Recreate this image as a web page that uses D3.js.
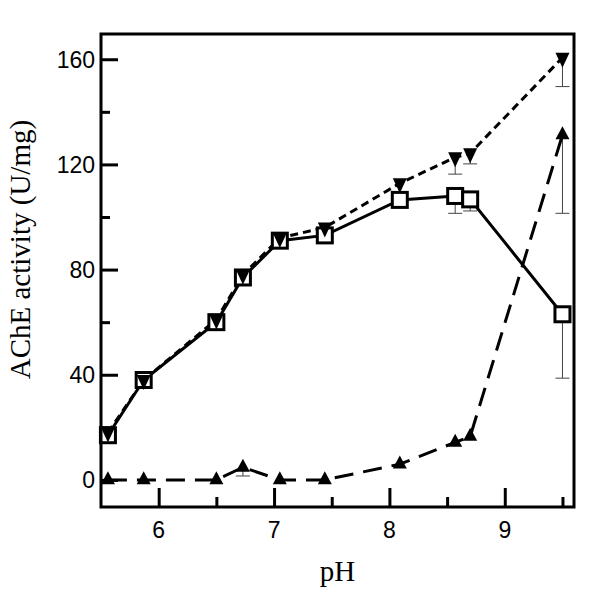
<!DOCTYPE html>
<html>
<head>
<meta charset="utf-8">
<script src="https://cdn.jsdelivr.net/npm/d3@7"></script>
<style>
    body { margin: 0; background: #fff; }
    .tick-label { font-family: "Liberation Sans", Arial, sans-serif; font-size: 23px; fill: #000; }
    .axis-title { font-family: "Liberation Serif", "Times New Roman", serif; font-size: 29px; fill: #000; }
</style>
</head>
<body>
<div id="chart"></div>
<script>
// AChE activity vs pH - three series with lower error bars

const phValues = [5.56, 5.87, 6.5, 6.73, 7.05, 7.44, 8.09, 8.57, 8.70, 9.5];

// open squares, solid line
const squareValues = [17, 38, 60, 77, 91, 93, 106.5, 108, 106.7, 63];
const squareErr    = [0, 0, 0, 0, 0, 0, 0, 6.6, 4.4, 24.3];

// filled down triangles, short dashes
const downValues = [18, 38, 61, 78, 92, 96, 112.8, 122.7, 124.2, 160.6];
const downErr    = [0, 0, 0, 0, 0, 0, 0, 6.4, 4, 11];

// filled up triangles, long dashes
const upValues = [0, 0, 0, 4.8, 0, 0, 6, 14.3, 16.5, 131.2];
const upErr    = [0, 0, 0, 3.3, 0, 0, 0, 0, 0, 29.8];

const xMajor = [6, 7, 8, 9];
const xMinor = [6.5, 7.5, 8.5, 9.5];
const yMajor = [0, 40, 80, 120, 160];
const yMinor = [20, 60, 100, 140];

const CONFIG = {
    width: 600,
    height: 592,
    margin: { top: 34, right: 26, bottom: 85, left: 101 },
    get chartWidth() { return this.width - this.margin.left - this.margin.right; },
    get chartHeight() { return this.height - this.margin.top - this.margin.bottom; }
};

const { width, height, margin, chartWidth, chartHeight } = CONFIG;

const svg = d3.select("#chart").append("svg")
    .attr("width", width)
    .attr("height", height);

const g = svg.append("g")
    .attr("transform", `translate(${margin.left},${margin.top})`);

const x = d3.scaleLinear().domain([5.5, 9.6]).range([0, chartWidth]);
const y = d3.scaleLinear().domain([-10.3, 169.6]).range([chartHeight, 0]);

// build series rows
function rows(values, errs) {
    return phValues.map((p, i) => ({ ph: p, v: values[i], e: errs[i] }));
}
const squares = rows(squareValues, squareErr);
const downs = rows(downValues, downErr);
const ups = rows(upValues, upErr);

// inward ticks via axis generators
const tickStyle = sel => {
    sel.select(".domain").remove();
    sel.selectAll("line").attr("stroke", "#000").attr("stroke-width", 3);
};

g.append("g")
    .attr("transform", `translate(0,${chartHeight})`)
    .call(d3.axisBottom(x).tickValues(xMajor).tickSize(-19).tickFormat(""))
    .call(tickStyle);
g.append("g")
    .attr("transform", `translate(0,${chartHeight})`)
    .call(d3.axisBottom(x).tickValues(xMinor).tickSize(-10).tickFormat(""))
    .call(tickStyle);
g.append("g")
    .call(d3.axisLeft(y).tickValues(yMajor).tickSize(-17).tickFormat(""))
    .call(tickStyle);
g.append("g")
    .call(d3.axisLeft(y).tickValues(yMinor).tickSize(-9).tickFormat(""))
    .call(tickStyle);

// tick labels
g.selectAll(".xlab").data(xMajor).enter().append("text")
    .attr("class", "tick-label")
    .attr("x", d => x(d))
    .attr("y", chartHeight + 31)
    .attr("text-anchor", "middle")
    .text(d => d);

g.selectAll(".ylab").data(yMajor).enter().append("text")
    .attr("class", "tick-label")
    .attr("x", -6)
    .attr("y", d => y(d))
    .attr("dy", "0.36em")
    .attr("text-anchor", "end")
    .text(d => d);

// axis titles
svg.append("text")
    .attr("class", "axis-title")
    .attr("x", margin.left + chartWidth / 2)
    .attr("y", 581)
    .attr("text-anchor", "middle")
    .text("pH");

svg.append("text")
    .attr("class", "axis-title")
    .attr("transform", `translate(30,${margin.top + y(80) - 20}) rotate(-90)`)
    .attr("text-anchor", "middle")
    .text("AChE activity (U/mg)");

// error bars (lower half only)
function errorBars(data) {
    const bars = g.append("g")
        .selectAll("g")
        .data(data.filter(d => d.e > 0))
        .enter().append("g")
        .attr("stroke", "#444")
        .attr("stroke-width", 1);
    bars.append("line")
        .attr("x1", d => x(d.ph)).attr("x2", d => x(d.ph))
        .attr("y1", d => y(d.v)).attr("y2", d => y(d.v - d.e));
    bars.append("line")
        .attr("x1", d => x(d.ph) - 7).attr("x2", d => x(d.ph) + 7)
        .attr("y1", d => y(d.v - d.e)).attr("y2", d => y(d.v - d.e));
}
errorBars(squares);
errorBars(downs);
errorBars(ups);

// lines
const line = d3.line().x(d => x(d.ph)).y(d => y(d.v));

g.append("path").datum(ups)
    .attr("d", line)
    .attr("fill", "none")
    .attr("stroke", "#000")
    .attr("stroke-width", 3)
    .attr("stroke-dasharray", "19,10");

g.append("path").datum(downs)
    .attr("d", line)
    .attr("fill", "none")
    .attr("stroke", "#000")
    .attr("stroke-width", 3)
    .attr("stroke-dasharray", "8,5");

g.append("path").datum(squares)
    .attr("d", line)
    .attr("fill", "none")
    .attr("stroke", "#000")
    .attr("stroke-width", 3);

// markers
g.selectAll(".sq").data(squares).enter().append("rect")
    .attr("x", d => x(d.ph) - 7.5)
    .attr("y", d => y(d.v) - 7.5)
    .attr("width", 15)
    .attr("height", 15)
    .attr("fill", "#fff")
    .attr("stroke", "#000")
    .attr("stroke-width", 3);

// triangle path, w wide, h tall, pointing up, centred on the centroid
const triPath = (w, h) => `M0,${-2 * h / 3}L${w / 2},${h / 3}L${-w / 2},${h / 3}Z`;

g.selectAll(".down").data(downs).enter().append("path")
    .attr("d", triPath(14, 15))
    .attr("transform", d => `translate(${x(d.ph)},${y(d.v)}) rotate(180)`)
    .attr("fill", "#000");

g.selectAll(".up").data(ups).enter().append("path")
    .attr("d", triPath(14, 13))
    .attr("transform", d => `translate(${x(d.ph)},${y(d.v)})`)
    .attr("fill", "#000");

// frame
g.append("rect")
    .attr("width", chartWidth)
    .attr("height", chartHeight)
    .attr("fill", "none")
    .attr("stroke", "#000")
    .attr("stroke-width", 3);
</script>
</body>
</html>
